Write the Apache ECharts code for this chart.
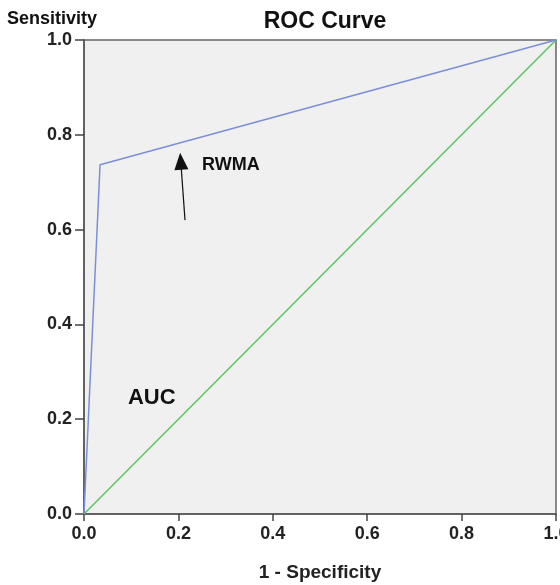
<!DOCTYPE html>
<html>
<head>
<meta charset="utf-8">
<script src="https://cdn.jsdelivr.net/npm/echarts@6/dist/echarts.min.js"></script>
<style>
  html, body { margin: 0; padding: 0; background: #fff; }
  #chart { width: 560px; height: 585px; }
</style>
</head>
<body>
<div id="chart"></div>
<script>
// ROC curve points (1 - specificity, sensitivity)
var rocX = [0, 0.034, 1];
var rocY = [0, 0.737, 1];
// reference diagonal
var refX = [0, 1];
var refY = [0, 1];
// arrow annotation (tail -> head)
var arrowFrom = [0.214, 0.62];
var arrowTo = [0.205, 0.744];

function pairs(xs, ys) {
  var out = [];
  for (var i = 0; i < xs.length; i++) out.push([xs[i], ys[i]]);
  return out;
}

var chart = echarts.init(document.getElementById("chart"));
var font = "Liberation Sans, Arial, sans-serif";
var axisCommon = {
  type: "value",
  min: 0,
  max: 1,
  interval: 0.2,
  axisLine: { show: true, lineStyle: { color: "#555", width: 1.5 } },
  splitLine: { show: false },
  axisLabel: {
    color: "#222",
    fontSize: 18,
    fontWeight: "bold",
    fontFamily: font,
    formatter: function (v) { return v.toFixed(1); }
  }
};

chart.setOption({
  animation: false,
  title: {
    text: "ROC Curve",
    left: 320,
    textAlign: "center",
    top: 5,
    textStyle: { fontSize: 23, fontWeight: "bold", color: "#111", fontFamily: font }
  },
  grid: {
    left: 84, right: 4, top: 40, bottom: 71,
    containLabel: false,
    outerBoundsMode: "none",
    show: true, backgroundColor: "#f0f0f0", borderColor: "#666", borderWidth: 1.5
  },
  xAxis: Object.assign({}, axisCommon, {
    name: "1 - Specificity",
    nameLocation: "middle",
    nameGap: 49,
    nameTextStyle: { fontSize: 19, fontWeight: "bold", color: "#222", fontFamily: font },
    axisTick: { show: true, length: 7, lineStyle: { color: "#444", width: 1.5 } },
    axisLabel: Object.assign({}, axisCommon.axisLabel, { margin: 11 })
  }),
  yAxis: Object.assign({}, axisCommon, {
    name: "Sensitivity",
    nameLocation: "end",
    nameGap: 12,
    nameTextStyle: {
      fontSize: 18, fontWeight: "bold", color: "#111", fontFamily: font,
      align: "left", padding: [0, 0, 0, -77]
    },
    axisTick: { show: true, length: 9, lineStyle: { color: "#444", width: 1.5 } },
    axisLabel: Object.assign({}, axisCommon.axisLabel, { margin: 12 })
  }),
  series: [
    {
      type: "line",
      data: pairs(refX, refY),
      symbol: "none",
      lineStyle: { color: "#5cc463", width: 1.5 },
      silent: true
    },
    {
      type: "line",
      data: pairs(rocX, rocY),
      symbol: "none",
      lineStyle: { color: "#7b8fd8", width: 1.5 },
      silent: true,
      markLine: {
        silent: true,
        symbol: ["none", "triangle"],
        symbolSize: [14, 17],
        label: { show: false },
        lineStyle: { color: "#111", width: 1.2, type: "solid" },
        data: [[{ coord: arrowFrom }, { coord: arrowTo }]]
      },
      markPoint: {
        silent: true,
        symbol: "rect",
        symbolSize: 0,
        data: [
          {
            coord: [0.25, 0.737],
            label: { show: true, formatter: "RWMA", position: "right", distance: 0,
              fontSize: 18, fontWeight: "bold", color: "#111", fontFamily: font }
          },
          {
            coord: [0.093, 0.245],
            label: { show: true, formatter: "AUC", position: "right", distance: 0,
              fontSize: 22, fontWeight: "bold", color: "#111", fontFamily: font }
          }
        ]
      }
    }
  ]
});
</script>
</body>
</html>
